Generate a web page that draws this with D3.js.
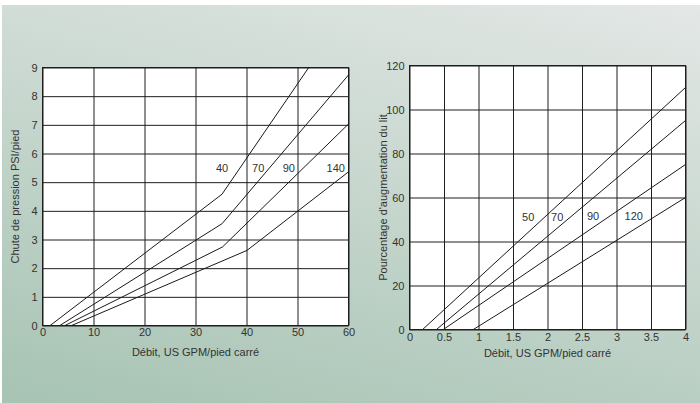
<!DOCTYPE html>
<html>
<head>
<meta charset="utf-8">
<script src="https://cdn.jsdelivr.net/npm/d3@7"></script>
<style>
  body { margin: 0; background: white; }
  svg { display: block; font-family: "Liberation Sans", Arial, sans-serif; }
</style>
</head>
<body>
<svg></svg>
<script>
let width = 700;
let height = 403;

// Left chart: pressure drop
let leftSeries = ["40", "70", "90", "140"];
let leftX = [[1.5, 35.2, 52.2], [3.4, 35.2, 60], [4.4, 35.3, 60], [5.7, 40.1, 60]];
let leftY = [[0, 4.58, 9], [0, 3.55, 8.74], [0, 2.74, 7.03], [0, 2.62, 5.36]];
let leftLabelX = [35.2, 42.3, 48.3, 57.5];
let leftLabelY = [5.5, 5.5, 5.5, 5.5];
let leftXTicks = [0, 10, 20, 30, 40, 50, 60];
let leftYTicks = [0, 1, 2, 3, 4, 5, 6, 7, 8, 9];

// Right chart: bed expansion
let rightSeries = ["50", "70", "90", "120"];
let rightX = [[0.19, 4], [0.39, 4], [0.49, 4], [0.925, 4]];
let rightY = [[0, 110], [0, 95], [0, 75], [0, 60]];
let rightLabelX = [1.72, 2.14, 2.66, 3.25];
let rightLabelY = [51, 51, 51.5, 51.5];
let rightXTicks = [0, 0.5, 1, 1.5, 2, 2.5, 3, 3.5, 4];
let rightYTicks = [0, 20, 40, 60, 80, 100, 120];

let xTitle = "Débit, US GPM/pied carré";

let svg = d3.select("svg").attr("width", width).attr("height", height);

// background gradient
let grad = svg.append("defs").append("linearGradient")
  .attr("id", "bg")
  .attr("gradientUnits", "userSpaceOnUse")
  .attr("x1", 0).attr("y1", 403)
  .attr("x2", 136).attr("y2", -141);
grad.append("stop").attr("offset", 0).attr("stop-color", "#a6c3b3");
grad.append("stop").attr("offset", 1).attr("stop-color", "#e4e8e6");

svg.append("rect").attr("width", width).attr("height", height).attr("fill", "white");
svg.append("rect")
  .attr("x", 2).attr("y", 5)
  .attr("width", width - 2).attr("height", height - 5)
  .attr("fill", "url(#bg)");

function drawChart(opt) {
  let g = svg.append("g");
  let xScale = d3.scaleLinear().domain(opt.xDomain).range([opt.left, opt.right]);
  let yScale = d3.scaleLinear().domain(opt.yDomain).range([opt.bottom, opt.top]);
  let w = opt.right - opt.left;
  let h = opt.bottom - opt.top;

  g.append("rect")
    .attr("x", opt.left).attr("y", opt.top)
    .attr("width", w).attr("height", h)
    .attr("fill", "white");

  let xAxis = d3.axisBottom(xScale)
    .tickValues(opt.xTicks)
    .tickSize(-h)
    .tickPadding(opt.xPad)
    .tickFormat(d3.format("~g"));

  let yAxis = d3.axisLeft(yScale)
    .tickValues(opt.yTicks)
    .tickSize(-w)
    .tickPadding(5)
    .tickFormat(d3.format("~g"));

  let gx = g.append("g")
    .attr("transform", `translate(0, ${opt.bottom})`)
    .call(xAxis);
  let gy = g.append("g")
    .attr("transform", `translate(${opt.left}, 0)`)
    .call(yAxis);

  [gx, gy].forEach((a) => {
    a.select(".domain").remove();
    a.selectAll(".tick line").attr("stroke", "#1e1e1e").attr("stroke-width", 1);
    a.selectAll(".tick text")
      .attr("fill", "#333")
      .style("font-size", "11px")
      .style("font-family", "'Liberation Sans', Arial, sans-serif");
  });

  g.append("rect")
    .attr("x", opt.left).attr("y", opt.top)
    .attr("width", w).attr("height", h)
    .attr("fill", "none")
    .attr("stroke", "#1e1e1e")
    .attr("stroke-width", 1);

  let line = d3.line()
    .x((d) => xScale(d[0]))
    .y((d) => yScale(d[1]));

  opt.xs.forEach((xs, i) => {
    let pts = xs.map((x, j) => [x, opt.ys[i][j]]);
    g.append("path")
      .attr("d", line(pts))
      .attr("fill", "none")
      .attr("stroke", "#1a1a1a")
      .attr("stroke-width", 1);
  });

  g.selectAll(".series-label")
    .data(opt.series)
    .enter()
    .append("text")
    .attr("class", "series-label")
    .attr("x", (d, i) => xScale(opt.labelX[i]))
    .attr("y", (d, i) => yScale(opt.labelY[i]))
    .attr("dy", "0.35em")
    .style("text-anchor", "middle")
    .style("font-size", "11px")
    .style("fill", "#333")
    .text((d) => d);

  // axis titles
  g.append("text")
    .attr("x", (opt.left + opt.right) / 2)
    .attr("y", opt.xTitleY)
    .style("text-anchor", "middle")
    .style("font-size", "11px")
    .style("fill", "#333")
    .text(xTitle);

  g.append("text")
    .attr("transform", `translate(${opt.yTitleX}, ${(opt.top + opt.bottom) / 2}) rotate(-90)`)
    .attr("dy", "0.35em")
    .style("text-anchor", "middle")
    .style("font-size", "11px")
    .style("fill", "#333")
    .text(opt.yTitle);
}

drawChart({
  left: 42.5, right: 348.5, top: 67.5, bottom: 325.5,
  xDomain: [0, 60], yDomain: [0, 9],
  xTicks: leftXTicks, yTicks: leftYTicks, xPad: 3,
  xs: leftX, ys: leftY,
  series: leftSeries, labelX: leftLabelX, labelY: leftLabelY,
  xTitleY: 356, yTitleX: 15,
  yTitle: "Chute de pression PSI/pied"
});

drawChart({
  left: 409.5, right: 685.5, top: 65.5, bottom: 329.5,
  xDomain: [0, 4], yDomain: [0, 120],
  xTicks: rightXTicks, yTicks: rightYTicks, xPad: 4,
  xs: rightX, ys: rightY,
  series: rightSeries, labelX: rightLabelX, labelY: rightLabelY,
  xTitleY: 357, yTitleX: 383,
  yTitle: "Pourcentage d'augmentation du lit"
});
</script>
</body>
</html>
